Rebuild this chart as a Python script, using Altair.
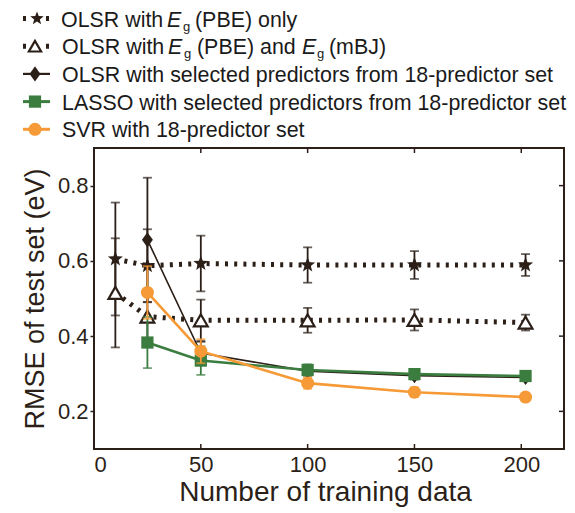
import altair as alt
import pandas as pd

# ---- data -------------------------------------------------------------
n_train = [10, 25, 50, 100, 150, 202]
n_train_sel = [25, 50, 100, 150, 202]

pbe_only_rmse = [0.605, 0.587, 0.593, 0.589, 0.589, 0.589]
pbe_only_err = [0.150, 0.097, 0.074, 0.047, 0.037, 0.029]

pbe_mbj_rmse = [0.515, 0.452, 0.442, 0.442, 0.443, 0.436]
pbe_mbj_err = [0.145, 0.060, 0.055, 0.033, 0.028, 0.021]

olsr_sel_rmse = [0.656, 0.355, 0.307, 0.295, 0.290]
olsr_sel_err = [0.165, 0.030, 0.012, 0.010, 0.008]

lasso_rmse = [0.383, 0.335, 0.310, 0.299, 0.294]
lasso_err = [0.068, 0.038, 0.015, 0.012, 0.010]

svr_rmse = [0.516, 0.360, 0.275, 0.251, 0.238]
svr_err = [0.070, 0.032, 0.015, 0.013, 0.010]

x_ticks = [0, 50, 100, 150, 200]
y_ticks = [0.2, 0.4, 0.6, 0.8]

# ---- style ------------------------------------------------------------
FONT = "Liberation Sans"
INK = "#2b1f18"
GREEN = "#3b7d3f"
ORANGE = "#f59a36"
W, H = 470, 301
LEFT, TOP = 94, 148

STAR = ("M0,-1L0.247,-0.34L0.951,-0.309L0.399,0.13L0.588,0.809L0,0.42"
        "L-0.588,0.809L-0.399,0.13L-0.951,-0.309L-0.247,-0.34Z")
TALL_DIAMOND = "M0,-1L0.72,0L0,1L-0.72,0Z"

x_scale = alt.Scale(domain=[0, 220], nice=False, zero=False)
y_scale = alt.Scale(domain=[0.1, 0.9], nice=False, zero=False)

x_axis = alt.Axis(values=x_ticks, domain=False, ticks=False, grid=False,
                  labelFont=FONT, labelFontSize=22, labelColor=INK, labelPadding=5,
                  titleFont=FONT, titleFontSize=28, titleColor=INK,
                  titleFontWeight="normal", titleX=W / 2 - 4, titleY=51,
                  titleBaseline="alphabetic")
y_axis = alt.Axis(values=y_ticks, domain=False, ticks=True, tickSize=4,
                  tickWidth=1.5, tickColor=INK, grid=False, format=".1f",
                  labelFont=FONT, labelFontSize=22, labelColor=INK, labelPadding=2,
                  titleFont=FONT, titleFontSize=27, titleColor=INK,
                  titleFontWeight="normal", titleX=-51, titleY=H / 2,
                  titleBaseline="alphabetic")

X_TITLE = "Number of training data"
Y_TITLE = "RMSE of test set (eV)"


def X(field="n"):
    return alt.X(f"{field}:Q", scale=x_scale, axis=x_axis, title=X_TITLE)


def Y(field="rmse"):
    return alt.Y(f"{field}:Q", scale=y_scale, axis=y_axis, title=Y_TITLE)


def series(xs, ys, errs, color, shape, size, filled, line_width, dash=None,
           point_fill=None):
    df = pd.DataFrame({"n": xs, "rmse": ys})
    df["lo"] = df["rmse"] - pd.Series(errs)
    df["hi"] = df["rmse"] + pd.Series(errs)
    caps = pd.concat([
        pd.DataFrame({"n": df["n"], "rmse": df["lo"]}),
        pd.DataFrame({"n": df["n"], "rmse": df["hi"]}),
    ])
    line_kw = dict(color=color, strokeWidth=line_width)
    if dash:
        line_kw["strokeDash"] = dash
        line_kw["strokeCap"] = "butt"
    line = alt.Chart(df).mark_line(**line_kw).encode(x=X(), y=Y())
    bar = alt.Chart(df).mark_rule(color=color, strokeWidth=1.8).encode(
        x=X(), y=Y("lo"), y2="hi:Q")
    cap = alt.Chart(caps).mark_tick(color=color, orient="horizontal", size=9,
                                    thickness=1.8).encode(x=X(), y=Y())
    if filled:
        pt = alt.Chart(df).mark_point(shape=shape, size=size, filled=True,
                                      color=color, opacity=1)
    else:
        pt = alt.Chart(df).mark_point(shape=shape, size=size, filled=True,
                                      fill=point_fill, stroke=color,
                                      strokeWidth=2.2, opacity=1)
    pt = pt.encode(x=X(), y=Y())
    return [line, bar, cap, pt]


layers = []
layers += series(n_train, pbe_only_rmse, pbe_only_err, INK, STAR, 250, True,
                 5, dash=[3, 6.2])
layers += series(n_train, pbe_mbj_rmse, pbe_mbj_err, INK, "triangle-up", 190,
                 False, 5, dash=[3, 6.2], point_fill="white")
layers += series(n_train_sel, olsr_sel_rmse, olsr_sel_err, INK, TALL_DIAMOND,
                 230, True, 1.6)
layers += series(n_train_sel, lasso_rmse, lasso_err, GREEN, "square", 150,
                 True, 2.6)
layers += series(n_train_sel, svr_rmse, svr_err, ORANGE, "circle", 170, True,
                 2.6)

# inward ticks on the bottom, top and right edges of the frame
xt = pd.DataFrame({"n": x_ticks})
yt = pd.DataFrame({"rmse": y_ticks})
layers.append(alt.Chart(xt).mark_rule(color=INK, strokeWidth=1.5).encode(
    x=X(), y=alt.value(H), y2=alt.value(H - 5)))
layers.append(alt.Chart(xt).mark_rule(color=INK, strokeWidth=1.5).encode(
    x=X(), y=alt.value(0), y2=alt.value(5)))
layers.append(alt.Chart(yt).mark_rule(color=INK, strokeWidth=1.5).encode(
    y=Y(), x=alt.value(W), x2=alt.value(W - 5)))

# ---- legend (drawn above the plot frame) --------------------------------
one = pd.DataFrame({"k": [0]})
LEG_SIZE = 21.4
row_base = [26.5, 54.2, 81.9, 109.6, 137.3]


def ltext(txt, xa, ya, size=LEG_SIZE, italic=False):
    return alt.Chart(one).mark_text(
        text=txt, align="left", baseline="alphabetic", font=FONT,
        fontSize=size, fontStyle="italic" if italic else "normal",
        color="#1a1a1a").encode(x=alt.value(xa - LEFT), y=alt.value(ya - TOP))


def lline(ya, color, width, dash=None):
    kw = dict(color=color, strokeWidth=width)
    if dash:
        kw["strokeDash"] = dash
        kw["strokeCap"] = "butt"
    return alt.Chart(one).mark_rule(**kw).encode(
        x=alt.value(23 - LEFT), x2=alt.value(50 - LEFT), y=alt.value(ya - TOP))


def lpoint(xa, ya, shape, size, color, fill=None):
    if fill is None:
        m = alt.Chart(one).mark_point(shape=shape, size=size, filled=True,
                                      color=color, opacity=1)
    else:
        m = alt.Chart(one).mark_point(shape=shape, size=size, filled=True,
                                      fill=fill, stroke=color, strokeWidth=2.2,
                                      opacity=1)
    return m.encode(x=alt.value(xa - LEFT), y=alt.value(ya - TOP))


sub = 4
r = row_base
layers += [
    # row 1
    lline(r[0] - 8, INK, 5, dash=[3, 20]),
    lpoint(37, r[0] - 8, STAR, 200, INK),
    ltext("OLSR with", 61, r[0]),
    ltext("E", 167, r[0], italic=True),
    ltext("g", 183, r[0] + sub, size=13),
    ltext("(PBE) only", 195, r[0]),
    # row 2
    lline(r[1] - 8, INK, 5, dash=[3, 20]),
    lpoint(35, r[1] - 8, "triangle-up", 150, INK, fill="white"),
    ltext("OLSR with", 62, r[1]),
    ltext("E", 168, r[1], italic=True),
    ltext("g", 184, r[1] + sub, size=13),
    ltext("(PBE) and", 197, r[1]),
    ltext("E", 302, r[1], italic=True),
    ltext("g", 317, r[1] + sub, size=13),
    ltext("(mBJ)", 329, r[1]),
    # row 3
    lline(r[2] - 8, INK, 2.2),
    lpoint(35, r[2] - 8, TALL_DIAMOND, 230, INK),
    ltext("OLSR with selected predictors from 18-predictor set", 62, r[2]),
    # row 4
    lline(r[3] - 8, GREEN, 3),
    lpoint(35, r[3] - 8, "square", 150, GREEN),
    ltext("LASSO with selected predictors from 18-predictor set", 62, r[3]),
    # row 5
    lline(r[4] - 8, ORANGE, 3),
    lpoint(35, r[4] - 8, "circle", 170, ORANGE),
    ltext("SVR with 18-predictor set", 62, r[4]),
]

chart = alt.layer(*layers).properties(
    width=W, height=H,
    autosize=alt.AutoSizeParams(type="none"),
    padding={"left": LEFT, "top": TOP, "right": 575 - LEFT - W,
             "bottom": 513 - TOP - H},
    background="white",
).configure_view(stroke=INK, strokeWidth=2)

chart.save("out.html", embed_options={"renderer": "svg", "actions": False})
